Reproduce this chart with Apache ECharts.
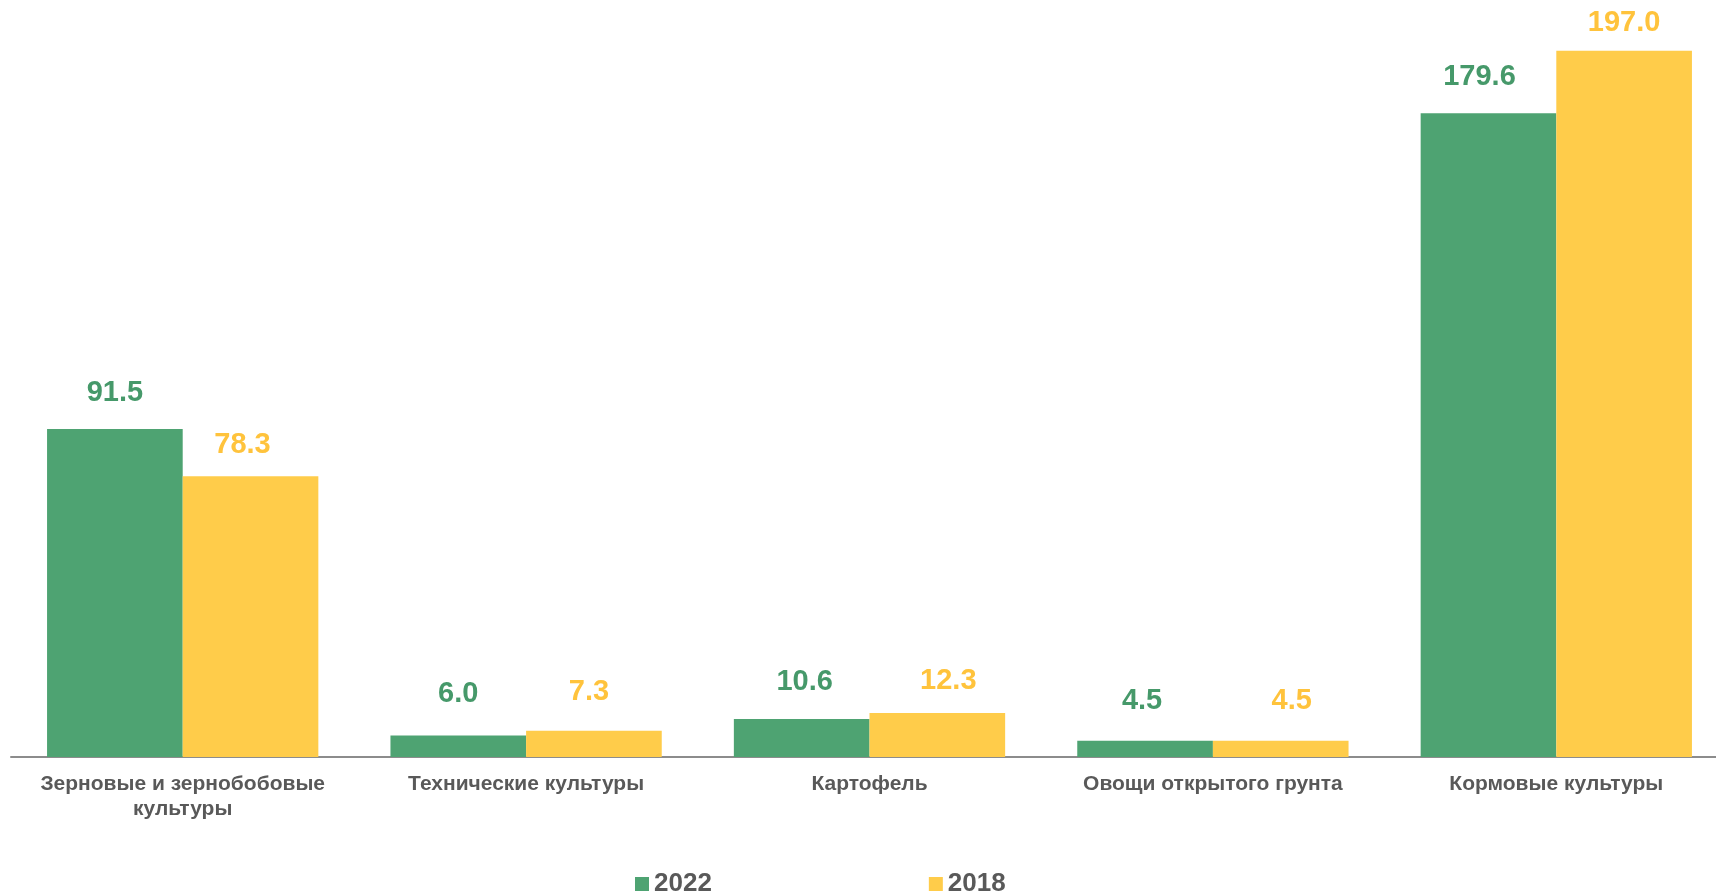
<!DOCTYPE html>
<html><head><meta charset="utf-8">
<script src="https://cdn.jsdelivr.net/npm/echarts@6/dist/echarts.min.js"></script>
<style>html,body{margin:0;padding:0;background:#fff;overflow:hidden}#c{width:1716px;height:894px}</style>
</head><body><div id="c"></div>
<script>
const categories = ['Зерновые и зернобобовые\nкультуры', 'Технические культуры', 'Картофель', 'Овощи открытого грунта', 'Кормовые культуры'];
const seriesNames = ['2022', '2018'];
const values2022 = [91.5, 6.0, 10.6, 4.5, 179.6];
const values2018 = [78.3, 7.3, 12.3, 4.5, 197.0];

// manual label nudges (layout only), [dx, dy] in px
const labelNudge2022 = [[0, 1], [0, -5], [3, 0], [-3, -3], [-9, 0]];
const labelNudge2018 = [[-8, 5], [-5, -2], [11, 5], [11, -3], [0, 0]];

const green = '#4EA372', yellow = '#FFCC4A';
const labelFont = {fontFamily: 'Liberation Sans, Arial, sans-serif', fontWeight: 'bold', fontSize: 29};
function mk(vals, nudges, idx) {
  return vals.map((v, i) => {
    const lab = {offset: nudges[i]};
    if (idx === 1 && i === 4) lab.distance = 13;
    return {value: v, label: lab};
  });
}
const chart = echarts.init(document.getElementById('c'));
chart.setOption({
  animation: false,
  grid: {left: 11, right: -12, top: 40, bottom: 137, containLabel: false, outerBoundsMode: 'none'},
  legend: {
    data: seriesNames, left: 630, top: 866, itemWidth: 14, itemHeight: 14, itemGap: 217,
    icon: 'rect',
    textStyle: {color: '#595959', fontSize: 26, fontWeight: 'bold', fontFamily: 'Liberation Sans, Arial, sans-serif'}
  },
  xAxis: {
    type: 'category', data: categories,
    axisLine: {lineStyle: {color: '#8c8c8c', width: 2}},
    axisTick: {show: false},
    axisLabel: {color: '#595959', fontSize: 21, fontWeight: 'bold', lineHeight: 25, margin: 15, interval: 0,
      fontFamily: 'Liberation Sans Narrow, Arial Narrow, Liberation Sans, sans-serif'}
  },
  yAxis: {type: 'value', min: 0, max: 200, show: false, splitLine: {show: false}},
  series: [
    {name: seriesNames[0], type: 'bar', data: mk(values2022, labelNudge2022, 0), barGap: '0%', barCategoryGap: '21%',
     itemStyle: {color: green},
     label: Object.assign({show: true, position: 'top', distance: 22, color: '#46996A', formatter: p => p.value.toFixed(1)}, labelFont)},
    {name: seriesNames[1], type: 'bar', data: mk(values2018, labelNudge2018, 1), barGap: '0%', barCategoryGap: '21%',
     itemStyle: {color: yellow},
     label: Object.assign({show: true, position: 'top', distance: 22, color: '#FFC33C', formatter: p => p.value.toFixed(1)}, labelFont)}
  ]
});
</script></body></html>
